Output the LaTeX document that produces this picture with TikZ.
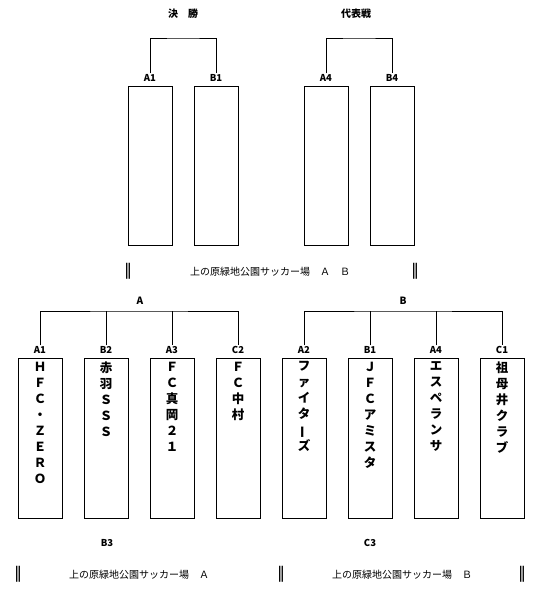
\documentclass[tikz,border=0pt]{standalone}
\usepackage{fontspec}
\newfontfamily\jp{Noto Sans CJK JP}
\newfontfamily\dv{DejaVu Sans}
\begin{document}
\begin{tikzpicture}[x=1pt,y=-1pt,
  box/.style={draw, line width=1pt, minimum width=44pt, inner sep=0pt},
  topbox/.style={box, minimum height=159pt},
  botbox/.style={box, minimum height=160pt},
  lbl/.style={font=\jp\bfseries\fontsize{9.5}{10}\selectfont, inner sep=1pt},
  ttl/.style={font=\jp\bfseries\fontsize{10}{11}\selectfont, inner sep=1pt},
  vt/.style={font=\jp\bfseries\fontsize{12.5}{16}\selectfont, align=center, anchor=north, inner sep=0pt},
  venue/.style={font=\jp\fontsize{10}{11}\selectfont, inner sep=1pt},
  bar/.style={font=\dv\fontsize{16}{16}\selectfont, inner sep=0pt},
  conn/.style={line width=1pt}]
\useasboundingbox (0,0) rectangle (557,597);
% ---------- top ----------
\node[ttl] (tfin) at (183,14) {決　勝};
\node[ttl] (trep) at (356,14) {代表戦};
\node[lbl] (tA1) at (150,78) {A1};
\node[lbl] (tB1) at (216,78) {B1};
\node[lbl] (tA4) at (326,78) {A4};
\node[lbl] (tB4) at (392,78) {B4};
\coordinate (tJ1) at (183,38);
\coordinate (tJ2) at (359,38);
\draw[conn] (tA1.north) |- (tJ1) -| (tB1.north);
\draw[conn] (tA4.north) |- (tJ2) -| (tB4.north);
\node[topbox] (bxA1) at (150,165.5) {};
\node[topbox] (bxB1) at (216,165.5) {};
\node[topbox] (bxA4) at (326,165.5) {};
\node[topbox] (bxB4) at (392,165.5) {};
\node[bar] (m1) at (128,271) {‖};
\node[bar] (m2) at (415,271) {‖};
\node[venue] (mv) at (270,272) {上の原緑地公園サッカー場　Ａ　Ｂ};
% ---------- bottom ----------
\node[ttl] (gA) at (140,301) {A};
\node[ttl] (gB) at (403,301) {B};
\coordinate (jA) at (139,311);
\coordinate (jB) at (403,311);
\node[lbl] (la1) at (40,350) {A1};
\node[lbl] (lb2) at (106,350) {B2};
\node[lbl] (la3) at (172,350) {A3};
\node[lbl] (lc2) at (238,350) {C2};
\node[lbl] (la2) at (304,350) {A2};
\node[lbl] (lb1) at (370,350) {B1};
\node[lbl] (la4) at (436,350) {A4};
\node[lbl] (lc1) at (502,350) {C1};
\draw[conn] (la1.north) |- (jA) -| (lc2.north);
\draw[conn] (lb2.north) -- (lb2.north |- jA);
\draw[conn] (la3.north) -- (la3.north |- jA);
\draw[conn] (la2.north) |- (jB) -| (lc1.north);
\draw[conn] (lb1.north) -- (lb1.north |- jB);
\draw[conn] (la4.north) -- (la4.north |- jB);
\foreach \n/\x in {1/40,2/106,3/172,4/238,5/304,6/370,7/436,8/502}
  \node[botbox] (bb\n) at (\x,438) {};
\node[vt] (t1) at ([yshift=-4pt]bb1.north) {Ｈ\\Ｆ\\Ｃ\\・\\Ｚ\\Ｅ\\Ｒ\\Ｏ};
\node[vt] (t2) at ([yshift=-4pt]bb2.north) {赤\\羽\\Ｓ\\Ｓ\\Ｓ};
\node[vt] (t3) at ([yshift=-4pt]bb3.north) {Ｆ\\Ｃ\\真\\岡\\２\\１};
\node[vt] (t4) at ([yshift=-4pt]bb4.north) {Ｆ\\Ｃ\\中\\村};
\node[vt] (t5) at ([yshift=-4pt]bb5.north) {フ\\ァ\\イ\\タ\\\rotatebox[origin=c]{90}{ー}\\ズ};
\node[vt] (t6) at ([yshift=-4pt]bb6.north) {Ｊ\\Ｆ\\Ｃ\\ア\\ミ\\ス\\タ};
\node[vt] (t7) at ([yshift=-4pt]bb7.north) {エ\\ス\\ペ\\ラ\\ン\\サ};
\node[vt] (t8) at ([yshift=-4pt]bb8.north) {祖\\母\\井\\ク\\ラ\\ブ};
\node[lbl] (lb3) at (107,543) {B3};
\node[lbl] (lc3) at (370,543) {C3};
\node[bar] (n1) at (18,574) {‖};
\node[bar] (n2) at (281,574) {‖};
\node[bar] (n3) at (522,574) {‖};
\node[venue] (va) at (139,575) {上の原緑地公園サッカー場　Ａ};
\node[venue] (vb) at (402,575) {上の原緑地公園サッカー場　Ｂ};
\end{tikzpicture}
\end{document}
